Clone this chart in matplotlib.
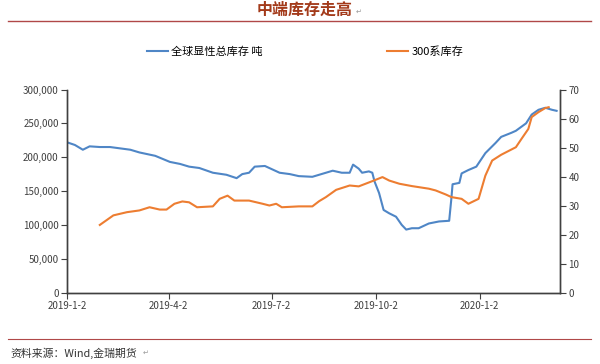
import matplotlib
matplotlib.use("Agg")
import matplotlib.pyplot as plt
import pandas as pd

plt.rcParams['font.family'] = ['Noto Sans CJK SC', 'DejaVu Sans']

title = "中端库存走高"
source = "资料来源：Wind,金瑞期货"
label_blue = "全球显性总库存 吨"
label_orange = "300系库存"

blue_dates = ["2019-01-02", "2019-01-09", "2019-01-16", "2019-01-22", "2019-01-31", "2019-02-09",
              "2019-02-18", "2019-02-27", "2019-03-07", "2019-03-21", "2019-04-03", "2019-04-12",
              "2019-04-20", "2019-04-29", "2019-05-11", "2019-05-23", "2019-06-01", "2019-06-06",
              "2019-06-12", "2019-06-17", "2019-06-26", "2019-07-09", "2019-07-18", "2019-07-26",
              "2019-08-07", "2019-08-19", "2019-08-25", "2019-09-02", "2019-09-09", "2019-09-12",
              "2019-09-17", "2019-09-20", "2019-09-26", "2019-09-29", "2019-10-01", "2019-10-05",
              "2019-10-09", "2019-10-14", "2019-10-20", "2019-10-25", "2019-10-29", "2019-11-03",
              "2019-11-09", "2019-11-18", "2019-11-27", "2019-12-06", "2019-12-08", "2019-12-09",
              "2019-12-15", "2019-12-17", "2019-12-23", "2019-12-30", "2020-01-07", "2020-01-16",
              "2020-01-21", "2020-01-30", "2020-02-03", "2020-02-12", "2020-02-17", "2020-02-23",
              "2020-02-29", "2020-03-06", "2020-03-10"]
blue_values = [222000, 218000, 211000, 216000, 215000, 215000,
               213000, 211000, 207000, 202000, 193000, 190000,
               186000, 184000, 177000, 174000, 169000, 175000,
               177000, 186000, 187000, 177000, 175000, 172000,
               171000, 177000, 180000, 177000, 177000, 189000,
               183000, 177000, 179000, 177000, 164000, 147000,
               122000, 117000, 112000, 100000, 93000, 95000,
               95000, 102000, 105000, 106000, 140000, 160000,
               162000, 176000, 181000, 186000, 206000, 221000,
               230000, 236000, 239000, 250000, 263000, 270000,
               273000, 270000, 268500]

orange_dates = ["2019-01-31", "2019-02-12", "2019-02-24", "2019-03-07", "2019-03-16", "2019-03-25",
                "2019-03-31", "2019-04-07", "2019-04-14", "2019-04-20", "2019-04-27", "2019-05-11",
                "2019-05-17", "2019-05-24", "2019-05-30", "2019-06-12", "2019-06-24", "2019-06-30",
                "2019-07-06", "2019-07-11", "2019-07-26", "2019-08-07", "2019-08-13", "2019-08-19",
                "2019-08-28", "2019-09-09", "2019-09-17", "2019-09-29", "2019-10-08", "2019-10-14",
                "2019-10-23", "2019-11-03", "2019-11-18", "2019-11-24", "2019-12-03", "2019-12-08",
                "2019-12-17", "2019-12-23", "2020-01-01", "2020-01-07", "2020-01-13", "2020-01-21",
                "2020-02-03", "2020-02-08", "2020-02-14", "2020-02-17", "2020-02-23", "2020-02-29",
                "2020-03-03"]
orange_values = [23.3, 26.6, 27.7, 28.3, 29.4, 28.6,
                 28.6, 30.6, 31.4, 31.1, 29.4, 29.7,
                 32.3, 33.4, 31.7, 31.7, 30.6, 30.0,
                 30.6, 29.4, 29.7, 29.7, 31.5, 32.9,
                 35.4, 36.9, 36.6, 38.4, 39.8, 38.6,
                 37.5, 36.7, 35.8, 35.2, 33.8, 32.9,
                 32.3, 30.6, 32.3, 40.3, 45.5, 47.5,
                 50.1, 53.0, 56.4, 60.5, 62.2, 63.6,
                 63.9]

xtick_dates = ["2019-01-02", "2019-04-02", "2019-07-02", "2019-10-02", "2020-01-02"]
xtick_labels = ["2019-1-2", "2019-4-2", "2019-7-2", "2019-10-2", "2020-1-2"]
left_ticks = [0, 50000, 100000, 150000, 200000, 250000, 300000]
right_ticks = [0, 10, 20, 30, 40, 50, 60, 70]

blue_c = "#4f86c6"
orange_c = "#ed7d31"
title_c = "#a33a1a"
rule_c = "#b04848"
axis_c = "#404040"

fig = plt.figure(figsize=(6, 3.64), dpi=100)
ax = fig.add_axes([0.1117, 0.1964, 0.8216, 0.5577])
ax2 = ax.twinx()

bd = pd.to_datetime(blue_dates)
od = pd.to_datetime(orange_dates)
lb, = ax.plot(bd, blue_values, color=blue_c, lw=1.5, label=label_blue)
lo, = ax2.plot(od, orange_values, color=orange_c, lw=1.5, label=label_orange)

ax.set_ylim(0, 300000)
ax2.set_ylim(0, 70)
ax.set_xlim(pd.Timestamp("2019-01-02"), pd.Timestamp("2020-03-13"))
ax.set_yticks(left_ticks)
ax.set_yticklabels([f"{v:,}" for v in left_ticks])
ax2.set_yticks(right_ticks)
ax.set_xticks(pd.to_datetime(xtick_dates))
ax.set_xticklabels(xtick_labels)

for a in (ax, ax2):
    a.spines['top'].set_visible(False)
    for s in ('left', 'right', 'bottom'):
        a.spines[s].set_color(axis_c)
        a.spines[s].set_linewidth(1.0)
    a.tick_params(axis='both', direction='out', length=4, width=0.8, color=axis_c,
                  labelsize=7, labelcolor="#404040", pad=2)

fig.text(0.508, 0.972, title, ha='center', va='center', fontsize=11.5, fontweight='bold', color=title_c)
fig.text(0.592, 0.968, "↵", ha='left', va='center', fontsize=5, color="#999999", family=['DejaVu Sans'])
fig.add_artist(plt.Line2D([0.013, 0.985], [0.942, 0.942], color=rule_c, lw=1.0, transform=fig.transFigure))
fig.add_artist(plt.Line2D([0.013, 0.985], [0.0687, 0.0687], color=rule_c, lw=0.8, transform=fig.transFigure))
fig.text(0.017, 0.030, source, ha='left', va='center', fontsize=7.8, color="#333333")
fig.text(0.237, 0.030, "↵", ha='left', va='center', fontsize=5, color="#999999", family=['DejaVu Sans'])

fig.legend(handles=[lb, lo], loc='center', bbox_to_anchor=(0.508, 0.857), ncol=2, frameon=False,
           fontsize=8, handlelength=1.9, handletextpad=0.3, columnspacing=11.2)

fig.savefig("out.png", dpi=100)
